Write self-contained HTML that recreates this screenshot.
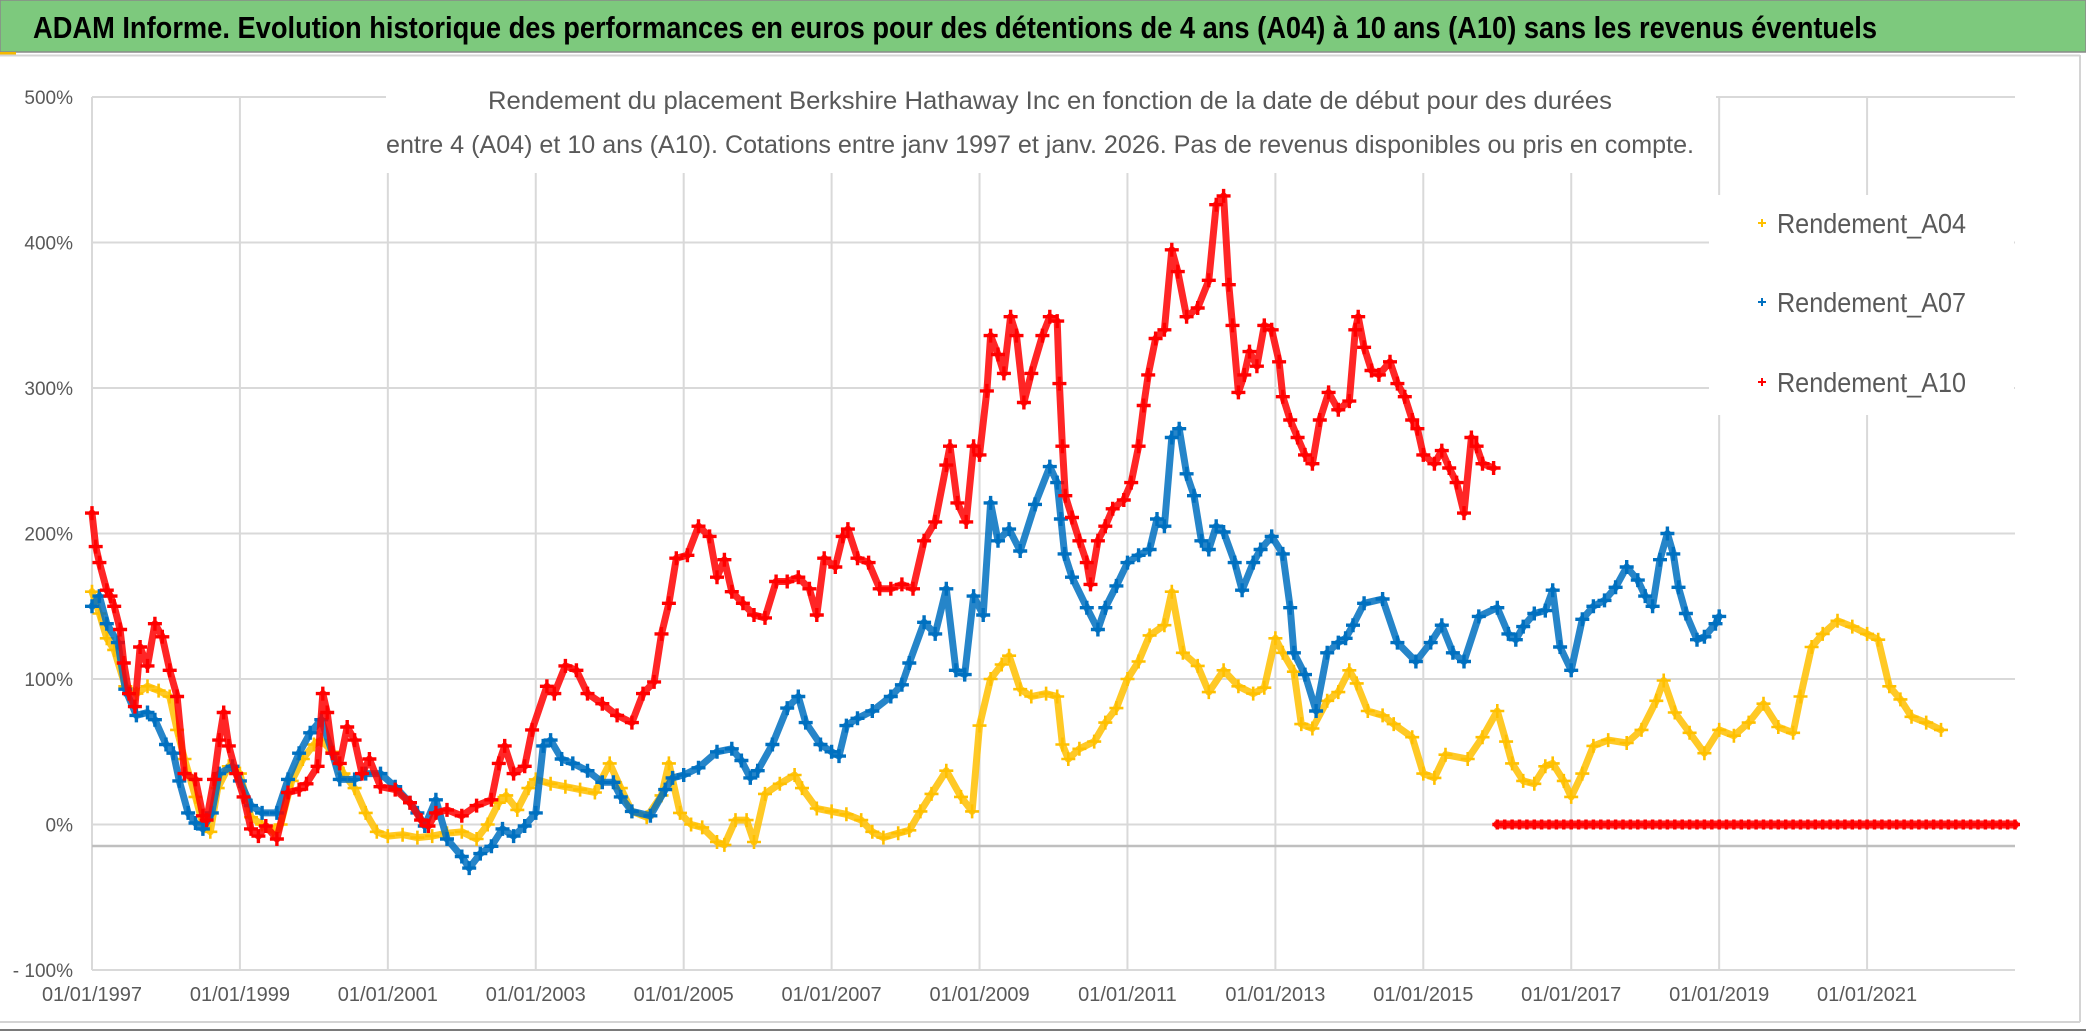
<!DOCTYPE html>
<html><head><meta charset="utf-8"><style>
html,body{margin:0;padding:0;background:#fff;}
svg{display:block;}
</style></head><body>
<svg id="chart" width="2086" height="1032" viewBox="0 0 2086 1032" xmlns="http://www.w3.org/2000/svg">
<rect x="0" y="0" width="2086" height="1032" fill="#fff"/>
<rect x="0" y="0" width="2086" height="52" fill="#7dc97d"/>
<rect x="0" y="0" width="2086" height="52" fill="none" stroke="#8a8a8a" stroke-width="1.5"/>
<text x="33" y="38" font-family="'Liberation Sans Narrow','Liberation Sans',sans-serif" font-weight="bold" font-size="31" fill="#000" textLength="1844" lengthAdjust="spacingAndGlyphs">ADAM Informe. Evolution historique des performances en euros pour des détentions de 4 ans (A04) à 10 ans (A10) sans les revenus éventuels</text>
<rect x="0" y="52" width="16" height="3" fill="#f5b800"/>
<line x1="0" y1="55.5" x2="2080" y2="55.5" stroke="#d4d4d4" stroke-width="2"/>
<line x1="2080" y1="55" x2="2080" y2="1022" stroke="#d4d4d4" stroke-width="2"/>
<line x1="0" y1="1022" x2="2080" y2="1022" stroke="#d4d4d4" stroke-width="2"/>
<line x1="0" y1="1030" x2="2086" y2="1030" stroke="#7a7a7a" stroke-width="2"/>
<g id="grid"></g>
<g id="axes"></g>
<g id="series"></g>
<rect x="386" y="80" width="1330" height="93" fill="#fff"/>
<text x="1050" y="109" text-anchor="middle" font-family="'Liberation Sans Narrow','Liberation Sans',sans-serif" font-size="25" fill="#595959" textLength="1124" lengthAdjust="spacingAndGlyphs">Rendement du placement Berkshire Hathaway Inc en fonction de la date de début pour des durées</text>
<text x="1040" y="153" text-anchor="middle" font-family="'Liberation Sans Narrow','Liberation Sans',sans-serif" font-size="25" fill="#595959" textLength="1308" lengthAdjust="spacingAndGlyphs">entre 4 (A04) et 10 ans (A10). Cotations entre janv 1997 et janv. 2026. Pas de revenus disponibles ou pris en compte.</text>
<g id="legend">
<rect x="1709" y="195" width="305" height="220" fill="#fff"/>
</g>
</svg>
<script>
const xYears=[1997,1999,2001,2003,2005,2007,2009,2011,2013,2015,2017,2019,2021];
const yTicks=[500,400,300,200,100,0,-100];
const yTickLabels=["500%","400%","300%","200%","100%","0%","- 100%"];
const seriesNames=["Rendement_A04","Rendement_A07","Rendement_A10"];

const tA04=[1997.0,1997.1,1997.2,1997.3,1997.45,1997.6,1997.75,1997.9,1998.05,1998.15,1998.25,1998.4,1998.5,1998.6,1998.7,1998.85,1999.0,1999.15,1999.3,1999.45,1999.55,1999.7,1999.85,2000.0,2000.1,2000.25,2000.4,2000.55,2000.7,2000.85,2001.0,2001.2,2001.4,2001.6,2001.8,2002.0,2002.2,2002.35,2002.5,2002.6,2002.75,2002.9,2003.0,2003.2,2003.4,2003.6,2003.8,2004.0,2004.15,2004.3,2004.5,2004.7,2004.8,2004.95,2005.1,2005.25,2005.45,2005.55,2005.7,2005.85,2005.95,2006.1,2006.3,2006.5,2006.6,2006.8,2007.0,2007.2,2007.4,2007.55,2007.7,2007.9,2008.05,2008.2,2008.35,2008.55,2008.75,2008.9,2009.0,2009.15,2009.3,2009.4,2009.55,2009.7,2009.9,2010.05,2010.12,2010.2,2010.35,2010.55,2010.7,2010.85,2011.0,2011.15,2011.3,2011.5,2011.6,2011.75,2011.95,2012.1,2012.3,2012.5,2012.7,2012.85,2013.0,2013.1,2013.25,2013.35,2013.5,2013.7,2013.85,2014.0,2014.1,2014.25,2014.45,2014.6,2014.85,2015.0,2015.15,2015.3,2015.6,2015.8,2016.0,2016.12,2016.2,2016.35,2016.5,2016.65,2016.75,2016.9,2017.0,2017.15,2017.3,2017.5,2017.75,2017.95,2018.15,2018.25,2018.4,2018.6,2018.8,2019.0,2019.2,2019.4,2019.6,2019.8,2020.0,2020.1,2020.25,2020.4,2020.6,2020.8,2021.0,2021.15,2021.3,2021.45,2021.6,2021.8,2022.0];
const vA04=[160,145,128,120,95,90,95,92,88,65,45,19,0,-5,25,40,35,5,0,-5,0,30,45,55,58,50,35,25,8,-5,-8,-7,-9,-8,-6,-5,-10,0,15,20,10,25,31,28,26,24,22,42,25,9,5,20,42,8,0,-2,-12,-14,3,3,-12,21,28,34,25,11,9,7,3,-5,-9,-6,-4,9,21,37,19,9,68,100,110,116,93,88,90,88,55,45,52,57,70,80,100,112,130,137,160,118,109,91,106,95,90,94,128,118,105,69,66,85,91,106,97,78,75,69,60,35,32,48,45,60,78,57,42,30,28,40,42,30,19,35,54,58,56,65,85,99,77,63,49,65,61,70,83,67,63,88,122,131,140,136,131,127,95,86,74,70,65];

const tA07=[1997.0,1997.1,1997.2,1997.35,1997.45,1997.6,1997.75,1997.85,1998.0,1998.1,1998.18,1998.3,1998.4,1998.5,1998.62,1998.72,1998.9,1999.0,1999.15,1999.3,1999.5,1999.65,1999.8,1999.95,2000.1,2000.25,2000.35,2000.55,2000.7,2000.9,2001.1,2001.3,2001.4,2001.5,2001.65,2001.8,2002.0,2002.1,2002.25,2002.4,2002.55,2002.7,2002.85,2003.0,2003.1,2003.2,2003.35,2003.5,2003.7,2003.9,2004.05,2004.15,2004.3,2004.55,2004.75,2004.85,2005.0,2005.2,2005.45,2005.65,2005.78,2005.9,2006.0,2006.2,2006.4,2006.55,2006.65,2006.85,2007.0,2007.1,2007.2,2007.35,2007.55,2007.8,2007.95,2008.05,2008.25,2008.4,2008.55,2008.68,2008.8,2008.92,2009.05,2009.15,2009.25,2009.4,2009.55,2009.75,2009.95,2010.05,2010.1,2010.15,2010.25,2010.45,2010.6,2010.7,2010.85,2011.0,2011.15,2011.3,2011.4,2011.5,2011.6,2011.7,2011.8,2011.9,2012.0,2012.1,2012.2,2012.3,2012.45,2012.55,2012.7,2012.8,2012.95,2013.1,2013.2,2013.25,2013.4,2013.55,2013.7,2013.85,2013.95,2014.05,2014.2,2014.45,2014.65,2014.9,2015.1,2015.25,2015.4,2015.55,2015.75,2016.0,2016.15,2016.25,2016.35,2016.5,2016.65,2016.75,2016.85,2017.0,2017.15,2017.3,2017.45,2017.6,2017.75,2017.9,2018.0,2018.1,2018.2,2018.3,2018.38,2018.45,2018.55,2018.7,2018.8,2018.95,2019.0];
const vA07=[150,157,138,125,93,75,77,72,55,49,30,8,1,-3,8,35,40,30,13,8,8,31,49,63,72,49,31,31,35,35,26,15,8,-1,17,-10,-22,-30,-20,-15,-3,-8,-1,8,54,58,45,42,37,29,29,19,9,6,24,32,34,39,50,52,44,32,37,55,80,88,70,55,50,47,68,73,78,88,96,111,139,131,162,106,103,157,144,221,195,203,188,220,246,235,210,186,170,149,134,149,164,180,185,189,210,205,266,272,241,226,195,189,205,201,180,161,180,189,198,186,149,118,103,78,118,125,128,137,152,155,125,112,125,137,118,112,143,149,131,127,136,145,147,161,122,106,141,150,154,163,177,168,157,150,182,200,186,163,145,127,129,138,143];

const tA10=[1997.0,1997.05,1997.1,1997.2,1997.25,1997.3,1997.38,1997.43,1997.5,1997.58,1997.65,1997.75,1997.85,1997.95,1998.05,1998.15,1998.25,1998.4,1998.5,1998.55,1998.65,1998.72,1998.78,1998.85,1998.95,1999.05,1999.15,1999.25,1999.35,1999.5,1999.65,1999.8,1999.9,2000.05,2000.12,2000.18,2000.25,2000.35,2000.45,2000.55,2000.65,2000.75,2000.9,2001.1,2001.3,2001.45,2001.55,2001.65,2001.8,2002.0,2002.2,2002.4,2002.5,2002.58,2002.7,2002.85,2002.95,2003.15,2003.25,2003.4,2003.55,2003.7,2003.9,2004.1,2004.3,2004.45,2004.6,2004.7,2004.8,2004.9,2005.05,2005.2,2005.35,2005.45,2005.55,2005.65,2005.8,2005.95,2006.1,2006.25,2006.4,2006.55,2006.7,2006.8,2006.9,2007.05,2007.15,2007.22,2007.35,2007.5,2007.65,2007.8,2007.95,2008.1,2008.25,2008.4,2008.55,2008.6,2008.7,2008.82,2008.92,2009.0,2009.1,2009.15,2009.25,2009.33,2009.42,2009.5,2009.6,2009.7,2009.85,2009.95,2010.05,2010.08,2010.12,2010.16,2010.25,2010.35,2010.45,2010.5,2010.6,2010.7,2010.8,2010.95,2011.05,2011.15,2011.22,2011.28,2011.38,2011.5,2011.6,2011.68,2011.8,2011.95,2012.1,2012.2,2012.3,2012.37,2012.42,2012.5,2012.58,2012.65,2012.75,2012.85,2012.95,2013.05,2013.1,2013.2,2013.3,2013.4,2013.5,2013.6,2013.72,2013.85,2014.0,2014.08,2014.12,2014.2,2014.3,2014.4,2014.55,2014.65,2014.75,2014.85,2014.92,2015.0,2015.15,2015.25,2015.35,2015.45,2015.55,2015.65,2015.72,2015.8,2015.95];
const vA10=[214,191,180,161,157,150,134,111,90,81,122,109,138,129,106,88,35,31,6,3,31,58,77,54,35,19,-3,-8,-1,-10,22,24,28,40,90,77,49,42,67,58,35,45,26,24,15,3,-1,8,10,6,13,17,42,54,35,40,65,95,90,109,106,90,83,75,70,90,98,131,152,183,185,205,198,170,182,160,152,144,142,167,167,170,162,144,183,177,198,203,183,180,162,162,165,162,195,208,247,260,221,208,260,254,298,336,323,310,349,336,290,310,336,349,346,303,260,226,211,195,180,165,195,205,217,223,235,260,288,309,334,340,395,380,349,355,374,426,432,371,343,297,309,325,315,343,340,318,294,278,266,254,248,278,297,285,291,340,349,328,312,309,318,303,294,278,272,254,248,257,245,235,214,266,260,248,245];

const tA10Zero=[2016.0,2016.1,2016.2,2016.3,2016.4,2016.5,2016.6,2016.7,2016.8,2016.9,2017.0,2017.1,2017.2,2017.3,2017.4,2017.5,2017.6,2017.7,2017.8,2017.9,2018.0,2018.1,2018.2,2018.3,2018.4,2018.5,2018.6,2018.7,2018.8,2018.9,2019.0,2019.1,2019.2,2019.3,2019.4,2019.5,2019.6,2019.7,2019.8,2019.9,2020.0,2020.1,2020.2,2020.3,2020.4,2020.5,2020.6,2020.7,2020.8,2020.9,2021.0,2021.1,2021.2,2021.3,2021.4,2021.5,2021.6,2021.7,2021.8,2021.9,2022.0,2022.1,2022.2,2022.3,2022.4,2022.5,2022.6,2022.7,2022.8,2022.9,2023.0];
const vA10Zero=[0,0,0,0,0,0,0,0,0,0,0,0,0,0,0,0,0,0,0,0,0,0,0,0,0,0,0,0,0,0,0,0,0,0,0,0,0,0,0,0,0,0,0,0,0,0,0,0,0,0,0,0,0,0,0,0,0,0,0,0,0,0,0,0,0,0,0,0,0,0,0];

const NS="http://www.w3.org/2000/svg";
const X0=92,X1=2015,T0=1997,T1=2023;
const YTOP=97,YBOT=970,VTOP=500,VBOT=-100;
function xScale(t){return X0+(t-T0)/(T1-T0)*(X1-X0);}
function yScale(v){return YTOP+(VTOP-v)/(VTOP-VBOT)*(YBOT-YTOP);}
function mk(tag,attrs,parent){const e=document.createElementNS(NS,tag);for(const k in attrs)e.setAttribute(k,attrs[k]);parent.appendChild(e);return e;}

const grid=document.getElementById('grid');
const axes=document.getElementById('axes');
yTicks.forEach((v,i)=>{
  const y=yScale(v);
  const g=mk('line',{x1:X0,x2:X1,y1:y,y2:y,stroke:'#d9d9d9','stroke-width':2},grid);
  
  
  const lb=mk('text',{x:73,y:y+7,'text-anchor':'end','font-family':"'Liberation Sans Narrow','Liberation Sans',sans-serif",'font-size':19,fill:'#595959'},axes);
  lb.textContent=yTickLabels[i];
  
  
});
xYears.forEach(yr=>{
  const x=xScale(yr);
  const g=mk('line',{x1:x,x2:x,y1:YTOP,y2:YBOT,stroke:'#d9d9d9','stroke-width':2},grid);
  
  
  const lb=mk('text',{x:x,y:1001,'text-anchor':'middle','font-family':"'Liberation Sans Narrow','Liberation Sans',sans-serif",'font-size':20,fill:'#595959'},axes);
  lb.textContent='01/01/'+yr;
  
  
});
const ax=mk('line',{x1:X0,x2:X1,y1:846,y2:846,stroke:'#bfbfbf','stroke-width':2.5},axes);



const ser=document.getElementById('series');
function drawSeries(ts,vs,color,name,sw,size,lineW){
  const g=mk('g',{},ser);
  
  
  if(lineW>0){
    let d='';
    for(let i=0;i<ts.length;i++){d+=(i?'L':'M')+xScale(ts[i]).toFixed(1)+','+yScale(vs[i]).toFixed(1);}
    mk('path',{d:d,fill:'none',stroke:color,'stroke-width':lineW,'stroke-linejoin':'round','stroke-linecap':'round','stroke-opacity':0.85},g);
  }
  let d2='';
  for(let i=0;i<ts.length;i++){
    const x=xScale(ts[i]),y=yScale(vs[i]);
    d2+='M'+(x-size).toFixed(1)+','+y.toFixed(1)+'h'+(2*size)+'M'+x.toFixed(1)+','+(y-size).toFixed(1)+'v'+(2*size);
  }
  const p=mk('path',{d:d2,fill:'none',stroke:color,'stroke-width':sw},g);
  
  
}
drawSeries(tA04,vA04,'#ffc000','series-a04',2.6,7,7);
drawSeries(tA07,vA07,'#0070c0','series-a07',3.4,7,7);
drawSeries(tA10,vA10,'#ff0000','series-a10',3.4,7,7);
drawSeries(tA10Zero,vA10Zero,'#ff0000','series-a10-zero',3.5,5,8);

const leg=document.getElementById('legend');
const legColors=['#ffc000','#0070c0','#ff0000'];
const legY=[223,302,382];
seriesNames.forEach((n,i)=>{
  const m=mk('path',{d:`M1758,${legY[i]}h8M1762,${legY[i]-4}v8`,stroke:legColors[i],'stroke-width':2},leg);
  
  
  const t=mk('text',{x:1777,y:legY[i]+10,'font-family':"'Liberation Sans Narrow','Liberation Sans',sans-serif",'font-size':28,fill:'#595959',textLength:189,lengthAdjust:'spacingAndGlyphs'},leg);
  t.textContent=n;
  
  
});
</script>
</body></html>
